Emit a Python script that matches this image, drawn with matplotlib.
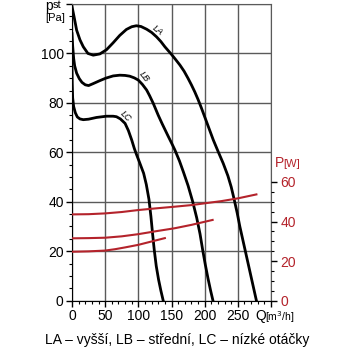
#fan curve chart: pressure (left) and power (right) vs flow
import matplotlib
matplotlib.use("Agg")
import matplotlib.pyplot as plt
import numpy as np

plt.rcParams['font.family'] = ['Liberation Sans', 'DejaVu Sans']

#pressure curves (Q m3/h , p Pa)
la_q = [0, 3, 7, 12, 17, 24, 32, 42, 52, 62, 72, 82, 90, 97, 104, 112.5, 120, 127.5, 134, 140, 150, 156, 162.7, 169, 175, 180, 185, 190, 195, 204, 213, 220, 228, 235, 240, 244, 249, 253, 258, 263, 268, 273, 278]
la_p = [119, 115, 109.4, 105.5, 102.7, 100, 99.3, 99.8, 101.5, 104.3, 107.3, 109.7, 110.8, 111.2, 110.9, 109.8, 108.5, 106.7, 104.8, 102.7, 99.6, 97.6, 95.3, 92.8, 89.9, 87.3, 84.5, 81.4, 78, 71.5, 65, 60.5, 55.5, 50.5, 46, 41.5, 35.5, 30, 24, 18, 12, 6, 0]

lb_q = [0, 1, 2.5, 4, 7, 11, 15, 20, 25, 32, 42, 51, 62, 72, 80, 87, 94, 100, 106, 112.5, 117, 122.5, 130, 136, 145, 150, 155, 162, 168, 175, 182, 188, 193, 197, 201, 205, 209, 212.5]
lb_p = [108, 103, 98, 95, 92, 89.8, 88.3, 87.3, 87, 87.8, 89, 90, 90.9, 91.2, 91.1, 90.8, 90.1, 89.2, 87.5, 85.2, 82.9, 79.8, 75, 71.5, 66.5, 63.8, 61, 56.5, 52, 46.5, 40, 33.5, 27, 20.5, 14.5, 9, 4, 0]

lc_q = [0, 0.3, 1, 2.5, 5, 8, 12, 17, 25, 37, 52, 62, 67, 73, 80, 85, 90, 94, 97.4, 102, 108, 112, 116, 119, 121.5, 124, 127, 130.5, 134, 137.5]
lc_p = [94, 88, 82, 78.5, 76, 74.3, 73.5, 73.2, 73.4, 74.1, 74.6, 74.6, 74.4, 73.5, 71.7, 68.8, 65, 61.5, 59, 55.8, 51.5, 47, 41, 34, 27, 20.5, 14, 8.5, 4, 0]

#power curves (Q m3/h , P W)
pa_q = [0, 25, 50, 75, 100, 125, 155, 180, 200, 225, 250, 278]
pa_w = [43.6, 43.7, 44.1, 44.8, 45.8, 46.6, 47.5, 48.3, 49.2, 50.3, 51.7, 53.7]

pb_q = [0, 25, 50, 75, 100, 125, 155, 180, 212]
pb_w = [31.5, 31.6, 31.8, 32.5, 33.6, 35, 36.6, 38.3, 40.8]

pc_q = [0, 25, 50, 65, 80, 100, 120, 140]
pc_w = [24.7, 24.9, 25.3, 26.0, 26.9, 28.2, 29.9, 31.6]

x_ticks = [0, 50, 100, 150, 200, 250]
y_ticks = [0, 20, 40, 60, 80, 100]
w_ticks = [0, 20, 40, 60]

red = "#b4232b"
grid_c = "#5a5a5a"

fig = plt.figure(figsize=(3.5, 3.5), dpi=100)
ax = fig.add_axes([72/350, 49.4/350, 199/350, 296.6/350])

ax.plot(la_q, la_p, color="black", lw=2, zorder=3)
ax.plot(lb_q, lb_p, color="black", lw=2, zorder=3)
ax.plot(lc_q, lc_p, color="black", lw=2, zorder=3)

ax.set_xlim(0, 300)
ax.set_ylim(0, 120)
ax.set_xticks(np.arange(0, 301, 10), minor=True)
ax.set_yticks(np.arange(0, 121, 5), minor=True)
ax.set_xticks(x_ticks + [300])
ax.set_xticklabels([str(v) for v in x_ticks] + [""])
ax.set_yticks(y_ticks + [120])
ax.set_yticklabels([str(v) for v in y_ticks] + [""])
ax.grid(True, which="major", color=grid_c, lw=1)
ax.tick_params(which="major", length=4, width=1, labelsize=10, pad=2)
ax.tick_params(which="minor", length=2.5, width=0.8)
ax.tick_params(axis="y", right=False)
for s in ["left", "bottom"]:
    ax.spines[s].set_color("black")
for s in ["top", "right"]:
    ax.spines[s].set_color(grid_c)

#curve names
ax.text(129.5, 109.5, "LA", fontsize=6.5, style="italic", rotation=-38, ha="center", va="center")
ax.text(109, 90.5, "LB", fontsize=6.5, style="italic", rotation=-52, ha="center", va="center")
ax.text(81, 74.5, "LC", fontsize=6.5, style="italic", rotation=-45, ha="center", va="center")

#power axis
ax2 = ax.twinx()
ax2.plot(pa_q, pa_w, color=red, lw=1.5, zorder=3)
ax2.plot(pb_q, pb_w, color=red, lw=1.5, zorder=3)
ax2.plot(pc_q, pc_w, color=red, lw=1.5, zorder=3)
ax2.set_ylim(0, 150)
ax2.set_yticks(w_ticks)
ax2.set_yticks(np.arange(0, 61, 5), minor=True)
ax2.tick_params(which="major", length=4, width=1, labelsize=10, pad=3, labelcolor=red)
ax2.tick_params(which="minor", length=2.5, width=0.8)
for s in ax2.spines.values():
    s.set_visible(False)

#axis labels
fig.text(45/350, 1 - 6/350, "p", fontsize=10, ha="left", va="center")
fig.text(53/350, 1 - 5/350, "st", fontsize=8, ha="left", va="center")
fig.text(45/350, 1 - 18/350, "[Pa]", fontsize=8, ha="left", va="center")
fig.text(275/350, 1 - 163/350, "P", fontsize=10, color=red, ha="left", va="center")
fig.text(283/350, 1 - 164/350, "[W]", fontsize=8, color=red, ha="left", va="center")
fig.text(255/350, 1 - 316/350, "Q", fontsize=10, ha="left", va="center")
fig.text(265/350, 1 - 317/350, "[m$^3$/h]", fontsize=7.5, ha="left", va="center")

fig.text(177/350, 1 - 340/350, "LA – vyšší, LB – střední, LC – nízké otáčky", fontsize=10, ha="center", va="center")

fig.savefig("out.png", dpi=100)
